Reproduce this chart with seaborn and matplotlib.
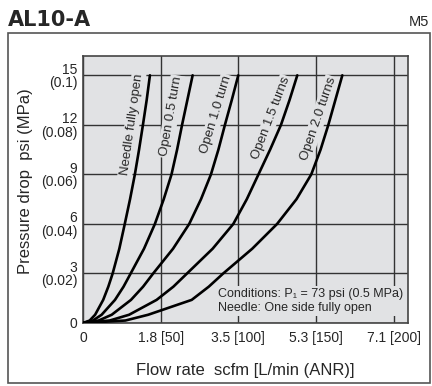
import matplotlib
matplotlib.use('Agg')
import matplotlib.pyplot as plt
from matplotlib.patches import Rectangle
import seaborn as sns
import numpy as np
import pandas as pd

# pressure drop levels (psi)
psi_levels = [0, 0.15, 0.5, 1.4, 2.2, 3, 4.5, 6, 7.5, 9, 10.5, 12, 13.5, 15]

# flow rate (L/min ANR) at each pressure level, one list per needle setting
flow_needle_open = [0, 4.3, 7.8, 13.0, 16.3, 19.1, 23.4, 26.9, 30.3, 33.4, 36.1, 38.6, 41.0, 43.1]
flow_open_05 = [0, 6.4, 12.0, 20.6, 26.1, 30.7, 39.3, 46.3, 52.0, 57.0, 60.6, 63.8, 67.2, 70.6]
flow_open_10 = [0, 10.1, 18.5, 30.9, 38.7, 45.2, 58.0, 68.4, 76.0, 82.4, 87.2, 91.4, 95.8, 100.0]
flow_open_15 = [0, 17.2, 29.7, 47.4, 58.2, 67.0, 83.5, 96.8, 105.5, 113.0, 120.5, 127.5, 133.0, 138.0]
flow_open_20 = [0, 27.3, 42.0, 70.0, 81.0, 90.3, 109.0, 125.0, 137.5, 147.0, 153.0, 158.0, 162.5, 167.0]

curve_names = ['Needle fully open', 'Open 0.5 turn', 'Open 1.0 turn', 'Open 1.5 turns', 'Open 2.0 turns']
curve_flows = [flow_needle_open, flow_open_05, flow_open_10, flow_open_15, flow_open_20]

x_ticks = [0, 50, 100, 150, 200]
x_tick_labels = ['0', '1.8 [50]', '3.5 [100]', '5.3 [150]', '7.1 [200]']
y_ticks = [0, 3, 6, 9, 12, 15]
y_tick_labels = ['0', '3\n(0.02)', '6\n(0.04)', '9\n(0.06)', '12\n(0.08)', '15\n(0.1)']

rows = []
for name, flows in zip(curve_names, curve_flows):
    for f, p in zip(flows, psi_levels):
        rows.append({'curve': name, 'flow': f, 'psi': p})
df = pd.DataFrame(rows)

sns.set_style('white')
plt.rcParams['font.family'] = ['Liberation Sans', 'DejaVu Sans']

bg = '#e1e2e4'
grid_col = '#333333'

fig = plt.figure(figsize=(4.32, 3.86), dpi=100)
ax = fig.add_axes([83/432, 1-323/386, 325/432, 267/386])
ax.set_facecolor(bg)

sns.lineplot(data=df, x='flow', y='psi', hue='curve', palette=['black']*5,
             estimator=None, sort=False, legend=False, lw=1.9, ax=ax, zorder=5)

ax.set_xlim(0, 209.3)
ax.set_ylim(0, 16.17)
ax.set_xticks(x_ticks)
ax.set_xticklabels(x_tick_labels, fontsize=10)
ax.set_yticks(y_ticks)
ax.set_yticklabels(y_tick_labels, fontsize=10)
for lab in ax.get_yticklabels():
    lab.set_linespacing(0.95)
ax.tick_params(axis='both', length=0)
ax.tick_params(axis='x', pad=6)
ax.tick_params(axis='y', pad=4)
ax.grid(True, color=grid_col, lw=1.0, zorder=1)
ax.set_axisbelow(True)
ax.set_xlabel('')
ax.set_ylabel('')
for sp in ax.spines.values():
    sp.set_color('#444444')
    sp.set_linewidth(1.2)

# curve labels (center position in data coords, angle in degrees)
label_pos = [(31.5, 12.0, 82), (56.6, 12.5, 80), (85.6, 12.6, 73), (121.1, 12.4, 69), (151.4, 12.35, 71)]
for name, (lx, ly, ang) in zip(curve_names, label_pos):
    ax.text(lx, ly, name, rotation=ang, rotation_mode='anchor', ha='center', va='center',
            fontsize=9.5, zorder=3,
            bbox=dict(facecolor=bg, edgecolor='none', pad=1.0))

ax.text(87, 1.35, 'Conditions: P\u2081 = 73 psi (0.5 MPa)\nNeedle: One side fully open',
        ha='left', va='center', fontsize=9, linespacing=1.2, zorder=3,
        bbox=dict(facecolor=bg, edgecolor='none', pad=1.5))

fig.text(245/432, 1-370/386, 'Flow rate  scfm [L/min (ANR)]', ha='center', va='center', fontsize=12)
fig.text(26/432, 1-181/386, 'Pressure drop  psi (MPa)', ha='center', va='center', rotation=90, fontsize=12)

fig.text(8/432, 1-26/386, 'AL10-A', ha='left', va='baseline', fontsize=15,
         fontweight='bold', family='DejaVu Sans')
fig.text(429/432, 1-26/386, 'M5', ha='right', va='baseline', fontsize=10.5)

fig.patches.append(Rectangle((8/432, 1-383/386), 422/432, 350/386, transform=fig.transFigure,
                             fill=False, edgecolor='#555555', lw=1.2))

plt.savefig('out.png', dpi=100)
